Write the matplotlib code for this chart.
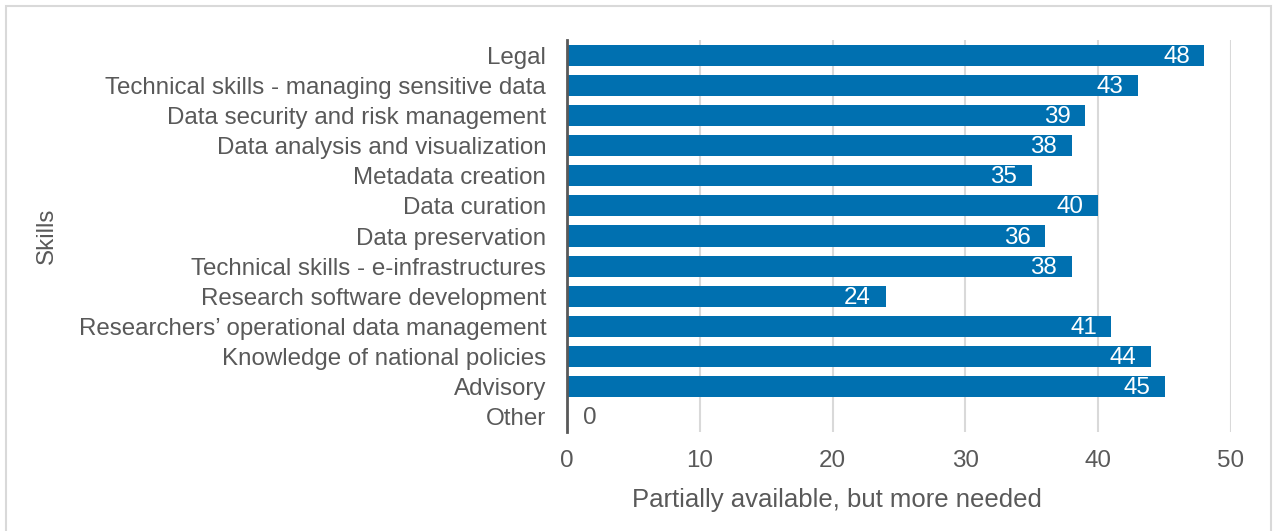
import matplotlib
matplotlib.use("Agg")
from matplotlib import pyplot as plt
from matplotlib.patches import Rectangle

skills = ["Legal", "Technical skills - managing sensitive data",
          "Data security and risk management", "Data analysis and visualization",
          "Metadata creation", "Data curation", "Data preservation",
          "Technical skills - e-infrastructures", "Research software development",
          "Researchers\u2019 operational data management",
          "Knowledge of national policies", "Advisory", "Other"]
counts = [48, 43, 39, 38, 35, 40, 36, 38, 24, 41, 44, 45, 0]

bar_color = "#0070b0"
text_color = "#595959"
fs = 17.4

plt.rcParams['font.family'] = ['Liberation Sans', 'DejaVu Sans']

fig = plt.figure(figsize=(12.73, 5.31), dpi=100)
ax = fig.add_axes([567 / 1273, 1 - 432 / 531, (1231 - 567) / 1273, (432 - 40) / 531])

# outer border of the chart area
fig.patches.append(Rectangle((6 / 1273, -0.01), 1265 / 1273, 1 - 6 / 531 + 0.01,
                             transform=fig.transFigure, fill=False,
                             edgecolor="#d9d9d9", linewidth=1.5))

ypos = list(range(len(skills)))
ax.barh(ypos, counts, height=0.7, color=bar_color, zorder=3)
ax.set_ylim(len(skills) - 0.5, -0.5)
ax.set_xlim(0, 50)
ax.set_xticks([0, 10, 20, 30, 40, 50])
ax.set_yticks(ypos)
ax.set_yticklabels(skills)

for y, v in zip(ypos, counts):
    if v > 0:
        ax.text(v - 1.1, y + 0.05, str(v), color="white", fontsize=fs,
                ha="right", va="center", zorder=4)
    else:
        ax.text(v + 1.2, y + 0.05, str(v), color=text_color, fontsize=fs,
                ha="left", va="center", zorder=4)

ax.grid(axis="x", color="#d9d9d9", linewidth=1.5, zorder=0)
for side in ["top", "right", "bottom"]:
    ax.spines[side].set_visible(False)
ax.spines["left"].set_color(text_color)
ax.spines["left"].set_linewidth(2)
ax.spines["left"].set_zorder(5)
ax.tick_params(axis="both", length=0, labelsize=fs, labelcolor=text_color)
ax.tick_params(axis="x", pad=13)
ax.tick_params(axis="y", pad=15)

# axis titles, placed where the original chart has them
fig.text(837 / 1273, 1 - 500 / 531, "Partially available, but more needed",
         fontsize=18.5, color=text_color, ha="center", va="center")
ax.set_ylabel("Skills", fontsize=fs, color=text_color)
ax.yaxis.set_label_coords(-0.767, 0.5)

fig.savefig("out.png", dpi=100)
